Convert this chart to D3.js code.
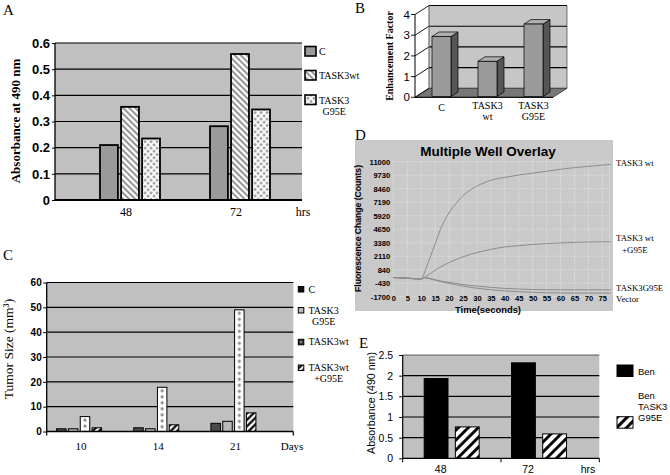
<!DOCTYPE html>
<html><head><meta charset="utf-8">
<script src="https://cdn.jsdelivr.net/npm/d3@7/dist/d3.min.js"></script>
<style>html,body{margin:0;padding:0;background:#fff}svg{display:block}</style>
</head><body>
<svg id="fig" width="670" height="475"></svg>
<script>
// ===== DATA =====
// Panel A
const aGroups = ["48", "72"];
const aSeries = ["C", "TASK3wt", "TASK3\nG95E"];
const aC = [0.21, 0.282];
const aWt = [0.356, 0.558];
const aG95E = [0.235, 0.346];
const aTicks = [0, 0.1, 0.2, 0.3, 0.4, 0.5, 0.6];
// Panel B
const bCats = ["C", "TASK3\nwt", "TASK3\nG95E"];
const bValues = [2.9, 1.7, 3.5];
const bTicks = [0, 1, 2, 3, 4];
// Panel C
const cGroups = ["10", "14", "21"];
const cSeries = ["C", "TASK3\nG95E", "TASK3wt", "TASK3wt\n+G95E"];
const cC = [1.1, 1.5, 3.3];
const cG95E = [1.1, 1.1, 4.1];
const cWt = [6.0, 17.8, 49.0];
const cWtG95E = [1.5, 2.7, 7.5];
const cTicks = [0, 10, 20, 30, 40, 50, 60];
// Panel D
const dTime = [0,5,10,11,12,13,14,15,16,17,18,20,22,25,28,30,35,40,45,50,55,60,65,70,75,78];
const dWt = [100,50,-50,450,1150,1850,2550,3250,4000,4700,5250,6200,6900,7800,8400,8700,9250,9520,9750,9920,10100,10290,10440,10560,10680,10750];
const dWtG95E = [100,50,-50,100,250,420,600,800,950,1100,1250,1500,1750,2050,2300,2450,2750,2980,3100,3220,3300,3360,3410,3440,3460,3470];
const dG95E = [100,50,-50,100,80,30,-30,-100,-160,-220,-270,-350,-430,-550,-650,-700,-820,-920,-980,-1020,-1040,-1050,-1050,-1050,-1050,-1050];
const dVector = [100,50,-50,100,50,0,-80,-150,-220,-280,-340,-450,-550,-700,-830,-900,-1050,-1150,-1230,-1290,-1330,-1350,-1355,-1360,-1360,-1360];
const dSeries = ["TASK3 wt", "TASK3 wt\n+G95E", "TASK3G95E", "Vector"];
const dYTicks = [11000, 9730, 8460, 7190, 5920, 4650, 3380, 2110, 840, -430, -1700];
const dXTicks = [0,5,10,15,20,25,30,35,40,45,50,55,60,65,70,75];
// Panel E
const eGroups = ["48", "72"];
const eSeries = ["Ben", "Ben\nTASK3\nG95E"];
const eBen = [1.93, 2.31];
const eBenG95E = [0.76, 0.59];
const eTicks = [0, 0.5, 1, 1.5, 2, 2.5];

// ===== HELPERS =====
const SERIF = "'Liberation Serif','Times New Roman',serif";
const SANS = "'Liberation Sans',Arial,sans-serif";
const svg = d3.select("#fig");
const defs = svg.append("defs");

function stripePattern(id, angle, spacing, width, color) {
  const p = defs.append("pattern").attr("id", id).attr("patternUnits", "userSpaceOnUse")
    .attr("width", spacing).attr("height", spacing).attr("patternTransform", `rotate(${angle})`);
  p.append("rect").attr("width", spacing).attr("height", spacing).attr("fill", "#fff");
  p.append("line").attr("x1", spacing / 2).attr("y1", -1).attr("x2", spacing / 2).attr("y2", spacing + 1)
    .attr("stroke", color).attr("stroke-width", width);
}
stripePattern("aStripe", -45, 4.3, 1.7, "#808080");
stripePattern("cHatch", 45, 4.6, 2.2, "#000");
stripePattern("eHatch", 45, 7, 2.9, "#000");

let patN = 0;
function diamondPattern(x, y, w, h, r, color, stagger) {
  const id = "dp" + (patN++);
  const p = defs.append("pattern").attr("id", id).attr("patternUnits", "userSpaceOnUse")
    .attr("x", x).attr("y", y).attr("width", w).attr("height", h);
  p.append("rect").attr("width", w).attr("height", h).attr("fill", "#fff");
  const pts = stagger ? [[0, 0], [w, 0], [0, h], [w, h], [w / 2, h / 2]] : [[w / 2, h / 2]];
  pts.forEach(([cx, cy]) => p.append("path")
    .attr("d", `M${cx},${cy - r}L${cx + r},${cy}L${cx},${cy + r}L${cx - r},${cy}Z`).attr("fill", color));
  return `url(#${id})`;
}

function multiText(g, x, y, str, lh, font, size, weight, align) {
  const lines = str.split("\n");
  const t = g.append("text").attr("font-family", font).attr("font-size", size)
    .attr("font-weight", weight || "normal").attr("fill", "#000");
  const spans = lines.map((l, i) => t.append("tspan").attr("x", x).attr("y", y + i * lh).text(l));
  if (align === "center" || align === "middle") {
    const ws = spans.map(s => s.node().getComputedTextLength());
    const m = Math.max(...ws);
    spans.forEach((s, i) => s.attr("x", align === "middle" ? x - ws[i] / 2 : x + (m - ws[i]) / 2));
  }
  return t;
}
function letter(x, y, s) {
  svg.append("text").attr("x", x).attr("y", y).attr("font-family", SERIF).attr("font-size", 15).text(s);
}
function styleAxis(g, font, size, weight) {
  g.select(".domain").remove();
  g.selectAll("text").attr("font-family", font).attr("font-size", size).attr("font-weight", weight).attr("fill", "#000");
  g.selectAll(".tick line").attr("stroke", "#000");
}

// ===== PANEL A =====
{
  const P = { left: 55, right: 302, top: 43, bottom: 200 };
  const y = d3.scaleLinear().domain([0, 0.6]).range([P.bottom, P.top]);
  const xg = d3.scaleBand().domain(aGroups).range([75, 295]);
  const xs = d3.scaleBand().domain(aSeries).range([-30, 30]).paddingInner(0.15);
  const g = svg.append("g");
  letter(3, 15, "A");
  g.append("rect").attr("x", P.left).attr("y", P.top).attr("width", P.right - P.left)
    .attr("height", P.bottom - P.top).attr("fill", "#c0c0c0");
  g.selectAll(".grid").data(aTicks.slice(1)).join("line")
    .attr("x1", P.left).attr("x2", P.right).attr("y1", d => y(d)).attr("y2", d => y(d))
    .attr("stroke", "#000").attr("stroke-width", 1.2);
  const ax = g.append("g").attr("transform", `translate(${P.left},0)`)
    .call(d3.axisLeft(y).tickValues(aTicks).tickSize(3).tickPadding(2).tickFormat(d => String(d)));
  styleAxis(ax, SANS, 13, "bold");
  g.append("line").attr("x1", P.left).attr("x2", P.left).attr("y1", P.top).attr("y2", P.bottom).attr("stroke", "#000").attr("stroke-width", 1.3);
  const vals = [aC, aWt, aG95E];
  const data = aGroups.flatMap((gr, i) => aSeries.map((s, j) => ({ gr, s, j, v: vals[j][i] })));
  data.forEach(d => {
    const bx = xg(d.gr) + xg.bandwidth() / 2 + xs(d.s);
    const fill = d.j === 0 ? "#9a9a9a" : d.j === 1 ? "url(#aStripe)" : diamondPattern(bx, y(d.v), 6, 6.4, 1.9, "#a0a0a0", true);
    g.append("rect").attr("x", bx).attr("y", y(d.v)).attr("width", xs.bandwidth())
      .attr("height", y(0) - y(d.v)).attr("fill", fill).attr("stroke", "#000").attr("stroke-width", 1.8);
  });
  g.append("line").attr("x1", P.left).attr("x2", P.right).attr("y1", P.bottom).attr("y2", P.bottom).attr("stroke", "#000").attr("stroke-width", 2);
  aGroups.forEach(gr => g.append("text").attr("x", xg(gr) + xg.bandwidth() / 2 - 4).attr("y", 216)
    .attr("text-anchor", "middle").attr("font-family", SERIF).attr("font-size", 12).text(gr));
  g.append("text").attr("x", 303).attr("y", 216).attr("text-anchor", "middle").attr("font-family", SERIF).attr("font-size", 12).text("hrs");
  g.append("text").attr("transform", "translate(20,121) rotate(-90)").attr("text-anchor", "middle")
    .attr("font-family", SERIF).attr("font-size", 13).attr("font-weight", "bold").text("Absorbance at 490 nm");
  const ly = [46.5, 70.5, 95];
  aSeries.forEach((s, j) => {
    const fill = j === 0 ? "#9a9a9a" : j === 1 ? "url(#aStripe)" : diamondPattern(305, ly[j], 6, 6.4, 1.9, "#a0a0a0", true);
    g.append("rect").attr("x", 305).attr("y", ly[j]).attr("width", 11).attr("height", 9.5)
      .attr("fill", fill).attr("stroke", "#000").attr("stroke-width", 1.6);
    multiText(g, 319, ly[j] + 8.5, s, 11, SERIF, 10, "normal", "center");
  });
}

// ===== PANEL B (3D) =====
{
  const x0 = 415, x1 = 553, ddx = 14, ddy = -9;
  const y = d3.scaleLinear().domain([0, 4]).range([97.3, 14.5]);
  const xb = d3.scaleBand().domain(bCats).range([x0, x1]);
  const g = svg.append("g");
  letter(355, 13, "B");
  const pts = a => a.map(p => p.join(",")).join(" ");
  g.append("polygon").attr("points", pts([[x0 + ddx, y(4) + ddy], [x1 + ddx, y(4) + ddy], [x1 + ddx, y(0) + ddy], [x0 + ddx, y(0) + ddy]]))
    .attr("fill", "#c6c6c6").attr("stroke", "#555").attr("stroke-width", 0.8);
  g.append("polygon").attr("points", pts([[x0, y(0)], [x1, y(0)], [x1 + ddx, y(0) + ddy], [x0 + ddx, y(0) + ddy]]))
    .attr("fill", "#777").attr("stroke", "#333").attr("stroke-width", 0.8);
  bTicks.forEach(t => {
    if (t > 0) g.append("line").attr("x1", x0 + ddx).attr("x2", x1 + ddx).attr("y1", y(t) + ddy).attr("y2", y(t) + ddy)
      .attr("stroke", "#000").attr("stroke-width", 1.1);
    g.append("line").attr("x1", x0).attr("y1", y(t)).attr("x2", x0 + ddx).attr("y2", y(t) + ddy)
      .attr("stroke", "#000").attr("stroke-width", 0.9);
    g.append("line").attr("x1", x0 - 4).attr("y1", y(t)).attr("x2", x0).attr("y2", y(t))
      .attr("stroke", "#000").attr("stroke-width", 0.9);
    g.append("text").attr("x", 410).attr("y", y(t) + 4).attr("text-anchor", "end")
      .attr("font-family", SANS).attr("font-size", 11.5).text(String(t));
  });
  g.append("line").attr("x1", x0 + ddx).attr("x2", x0 + ddx).attr("y1", y(4) + ddy).attr("y2", y(0) + ddy).attr("stroke", "#888").attr("stroke-width", 0.8);
  g.append("line").attr("x1", x0).attr("x2", x0).attr("y1", y(4)).attr("y2", y(0)).attr("stroke", "#000").attr("stroke-width", 1);
  g.append("line").attr("x1", x0).attr("x2", x1).attr("y1", y(0)).attr("y2", y(0)).attr("stroke", "#000").attr("stroke-width", 1);
  const bw = 19, fx = 1, fy = -0.8, bdx = 7, bdy = -4.5;
  bCats.forEach((c, i) => {
    const v = bValues[i];
    const bx = xb(c) + 16 + fx, top = y(v) + fy, bot = y(0) + fy;
    g.append("polygon").attr("points", pts([[bx + bw, top], [bx + bw + bdx, top + bdy], [bx + bw + bdx, bot + bdy], [bx + bw, bot]]))
      .attr("fill", "#555").attr("stroke", "#000").attr("stroke-width", 0.7);
    g.append("polygon").attr("points", pts([[bx, top], [bx + bdx, top + bdy], [bx + bw + bdx, top + bdy], [bx + bw, top]]))
      .attr("fill", "#b0b0b0").attr("stroke", "#000").attr("stroke-width", 0.7);
    g.append("rect").attr("x", bx).attr("y", top).attr("width", bw).attr("height", bot - top)
      .attr("fill", "#9a9a9a").attr("stroke", "#000").attr("stroke-width", 0.7);
    const lines = c.split("\n").length;
    multiText(g, bx + bw / 2, lines === 1 ? 111 : 108.5, c, 11.5, SERIF, 10, "normal", "middle");
  });
  g.append("text").attr("transform", "translate(393,56) rotate(-90)").attr("text-anchor", "middle")
    .attr("font-family", SERIF).attr("font-size", 10).attr("font-weight", "bold").text("Enhancement Factor");
}

// ===== PANEL C =====
{
  const P = { left: 46.7, right: 293.3, top: 282.5, bottom: 431.5 };
  const y = d3.scaleLinear().domain([0, 60]).range([P.bottom, P.top]);
  const xg = d3.scaleBand().domain(cGroups).range([40.5, 272]);
  const xs = d3.scaleBand().domain(cSeries).range([-22.5, 22.5]).paddingInner(0.2);
  const g = svg.append("g");
  letter(3, 260, "C");
  g.append("rect").attr("x", P.left).attr("y", P.top).attr("width", P.right - P.left)
    .attr("height", P.bottom - P.top).attr("fill", "#c0c0c0");
  g.selectAll(".grid").data(cTicks.slice(1)).join("line")
    .attr("x1", P.left).attr("x2", P.right).attr("y1", d => y(d)).attr("y2", d => y(d))
    .attr("stroke", "#000").attr("stroke-width", 1.2);
  const ax = g.append("g").attr("transform", `translate(${P.left},0)`)
    .call(d3.axisLeft(y).tickValues(cTicks).tickSize(3.5).tickPadding(1.5).tickFormat(d => String(d)));
  styleAxis(ax, SANS, 10, "bold");
  g.append("line").attr("x1", P.left).attr("x2", P.left).attr("y1", P.top).attr("y2", P.bottom).attr("stroke", "#000").attr("stroke-width", 1.3);
  const vals = [cC, cG95E, cWt, cWtG95E];
  cGroups.forEach((gr, i) => cSeries.forEach((s, j) => {
    const v = vals[j][i];
    const bx = xg(gr) + xg.bandwidth() / 2 + xs(s);
    const fill = j === 0 ? "#4a4a4a" : j === 1 ? "#b8b8b8" : j === 2 ? diamondPattern(bx, y(v) + 0.5, xs.bandwidth(), 6, 1.9, "#8a8a8a", false) : "url(#cHatch)";
    g.append("rect").attr("x", bx).attr("y", y(v)).attr("width", xs.bandwidth()).attr("height", y(0) - y(v))
      .attr("fill", fill).attr("stroke", "#000").attr("stroke-width", 1);
  }));
  g.append("line").attr("x1", P.left).attr("x2", P.right).attr("y1", P.bottom).attr("y2", P.bottom).attr("stroke", "#000").attr("stroke-width", 1.5);
  [P.left, P.right].forEach(xx => g.append("line").attr("x1", xx).attr("x2", xx).attr("y1", P.bottom).attr("y2", P.bottom + 4).attr("stroke", "#000").attr("stroke-width", 1.2));
  cGroups.forEach(gr => g.append("text").attr("x", xg(gr) + xg.bandwidth() / 2 + 2).attr("y", 449.5)
    .attr("text-anchor", "middle").attr("font-family", SERIF).attr("font-size", 11).text(gr));
  g.append("text").attr("x", 292).attr("y", 449.5).attr("text-anchor", "middle").attr("font-family", SERIF).attr("font-size", 11).text("Days");
  g.append("text").attr("transform", "translate(13,349) rotate(-90)").attr("text-anchor", "middle")
    .attr("font-family", SERIF).attr("font-size", 13.5).text("Tumor Size (mm³)");
  const ly = [286.5, 307.5, 339.3, 365];
  cSeries.forEach((s, j) => {
    const fill = j === 0 ? "#111" : j === 1 ? "#b8b8b8" : j === 2 ? "#333" : "url(#cHatch)";
    g.append("rect").attr("x", 298.3).attr("y", ly[j]).attr("width", 5.5).attr("height", 5.5)
      .attr("fill", fill).attr("stroke", "#000").attr("stroke-width", 1);
    if (j === 2) g.append("rect").attr("x", 300.3).attr("y", ly[j] + 2).attr("width", 1.5).attr("height", 1.5).attr("fill", "#ccc");
    multiText(g, 308.5, ly[j] + 6, s, 11, SERIF, 10, "normal", "center");
  });
}

// ===== PANEL D =====
{
  const g = svg.append("g");
  letter(355, 139.5, "D");
  g.append("rect").attr("x", 355).attr("y", 140).attr("width", 258).attr("height", 171).attr("fill", "#c9c9c9");
  const x = d3.scaleLinear().domain([0, 77.5]).range([393.3, 609.3]);
  const y = d3.scaleLinear().domain([-1700, 11000]).range([296.7, 161.7]);
  g.append("text").attr("x", 488).attr("y", 156).attr("text-anchor", "middle").attr("font-family", SANS)
    .attr("font-size", 13.5).attr("font-weight", "bold").text("Multiple Well Overlay");
  dYTicks.forEach(t => g.append("line").attr("x1", x(0)).attr("x2", x(77.5)).attr("y1", y(t)).attr("y2", y(t))
    .attr("stroke", "#ececec").attr("stroke-width", 0.8).attr("stroke-dasharray", "1,1.3"));
  dXTicks.concat([77.5]).forEach(t => g.append("line").attr("x1", x(t)).attr("x2", x(t)).attr("y1", y(11000)).attr("y2", y(-1700))
    .attr("stroke", "#ececec").attr("stroke-width", 0.8).attr("stroke-dasharray", "1,1.3"));
  const line = d3.line().x(d => x(d[0])).y(d => y(d[1])).curve(d3.curveMonotoneX);
  [dWt, dWtG95E, dG95E, dVector].forEach(arr => {
    g.append("path").attr("d", line(dTime.map((t, i) => [t, arr[i]]))).attr("fill", "none")
      .attr("stroke", "#8c8c8c").attr("stroke-width", 1);
  });
  const ay = g.append("g").attr("transform", `translate(${x(0)},0)`)
    .call(d3.axisLeft(y).tickValues(dYTicks).tickSize(0).tickPadding(3).tickFormat(d => String(d)));
  styleAxis(ay, SANS, 7.6, "bold");
  const axx = g.append("g").attr("transform", `translate(0,${y(-1700) - 0.8})`)
    .call(d3.axisBottom(x).tickValues(dXTicks).tickSize(0).tickPadding(0).tickFormat(d => String(d)));
  styleAxis(axx, SANS, 7.6, "bold");
  g.append("text").attr("x", 488).attr("y", 312.8).attr("text-anchor", "middle").attr("font-family", SANS)
    .attr("font-size", 9.4).attr("font-weight", "bold").text("Time(seconds)");
  g.append("text").attr("transform", "translate(361,228.5) rotate(-90)").attr("text-anchor", "middle")
    .attr("font-family", SANS).attr("font-size", 8.6).attr("font-weight", "bold").text("Fluorescence Change (Counts)");
  const lys = [166, 241, 291, 302];
  dSeries.forEach((s, j) => multiText(g, 616, lys[j], s, 12, SERIF, 8.8, "normal", "center"));
}

// ===== PANEL E =====
{
  const P = { left: 402.7, right: 599.3, top: 355, bottom: 458.3 };
  const y = d3.scaleLinear().domain([0, 2.5]).range([P.bottom, P.top]);
  const xg = d3.scaleBand().domain(eGroups).range([408, 582.7]);
  const xs = d3.scaleBand().domain(eSeries).range([-27.5, 27.5]).paddingInner(0.236);
  const g = svg.append("g");
  letter(359, 348, "E");
  g.append("rect").attr("x", P.left).attr("y", P.top).attr("width", P.right - P.left)
    .attr("height", P.bottom - P.top).attr("fill", "#c0c0c0");
  g.selectAll(".grid").data(eTicks.slice(1)).join("line")
    .attr("x1", P.left).attr("x2", P.right).attr("y1", d => y(d)).attr("y2", d => y(d))
    .attr("stroke", "#000").attr("stroke-width", d => d === 2.5 ? 0.6 : 1.2);
  const ax = g.append("g").attr("transform", `translate(${P.left},0)`)
    .call(d3.axisLeft(y).tickValues(eTicks).tickSize(3.5).tickPadding(6).tickFormat(d => String(d)));
  styleAxis(ax, SANS, 10.5, "normal");
  g.append("line").attr("x1", P.left).attr("x2", P.left).attr("y1", P.top).attr("y2", P.bottom).attr("stroke", "#000").attr("stroke-width", 1.2);
  const vals = [eBen, eBenG95E];
  eGroups.forEach((gr, i) => eSeries.forEach((s, j) => {
    const v = vals[j][i];
    const bx = xg(gr) + xg.bandwidth() / 2 + xs(s);
    g.append("rect").attr("x", bx).attr("y", y(v)).attr("width", xs.bandwidth()).attr("height", y(0) - y(v))
      .attr("fill", j === 0 ? "#000" : "url(#eHatch)").attr("stroke", "#000").attr("stroke-width", 1);
  }));
  g.append("line").attr("x1", P.left).attr("x2", P.right).attr("y1", P.bottom).attr("y2", P.bottom).attr("stroke", "#000").attr("stroke-width", 1.3);
  [P.left, (P.left + P.right) / 2, P.right].forEach(xx => g.append("line").attr("x1", xx).attr("x2", xx)
    .attr("y1", P.bottom).attr("y2", P.bottom + 4).attr("stroke", "#000").attr("stroke-width", 1));
  eGroups.forEach(gr => g.append("text").attr("x", xg(gr) + xg.bandwidth() / 2 - 11).attr("y", 473)
    .attr("text-anchor", "middle").attr("font-family", SANS).attr("font-size", 10.5).text(gr));
  g.append("text").attr("x", 588).attr("y", 473).attr("text-anchor", "middle").attr("font-family", SANS).attr("font-size", 10.5).text("hrs");
  g.append("text").attr("transform", "translate(375,403) rotate(-90)").attr("text-anchor", "middle")
    .attr("font-family", SANS).attr("font-size", 10.6).text("Absorbance (490 nm)");
  const boxY = [365, 416.7], textY = [375, 399];
  eSeries.forEach((s, j) => {
    g.append("rect").attr("x", 617).attr("y", boxY[j]).attr("width", 16).attr("height", 11.5)
      .attr("fill", j === 0 ? "#000" : "url(#eHatch)").attr("stroke", "#000").attr("stroke-width", 1);
    multiText(g, 638, textY[j], s, 11, SANS, 9.5, "normal", "left");
  });
}
</script>
</body></html>
